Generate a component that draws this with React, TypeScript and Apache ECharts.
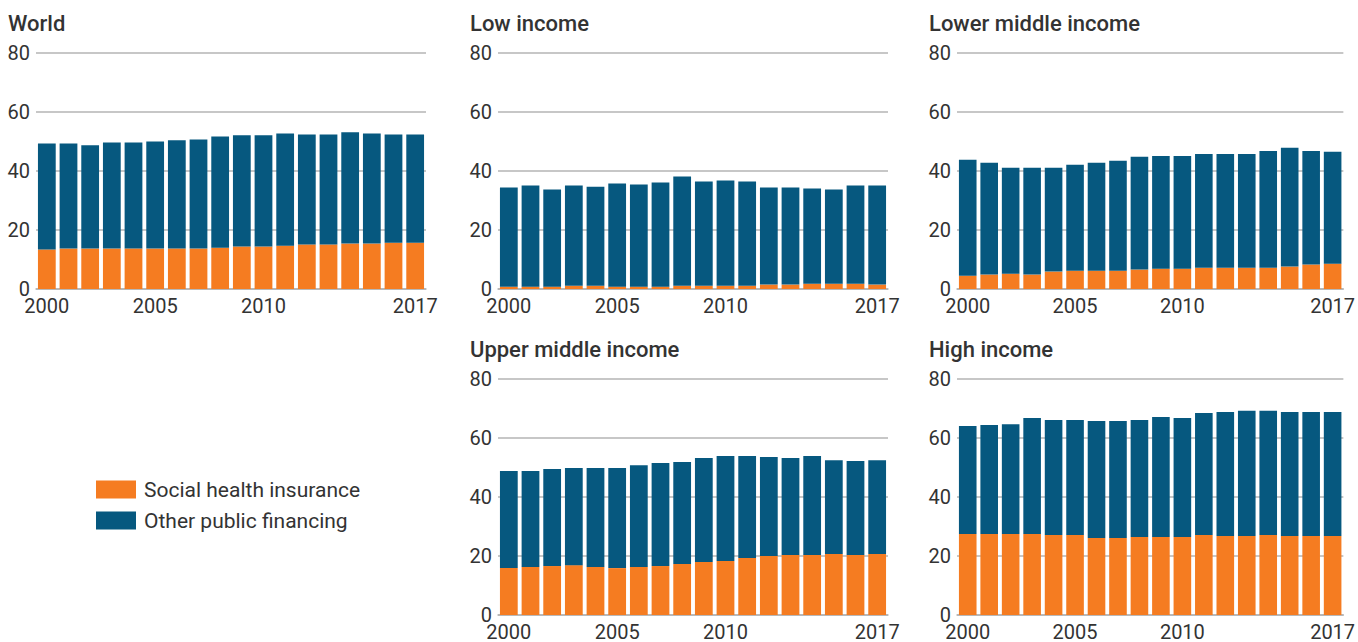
import React, { useEffect, useRef } from "react";
import * as echarts from "echarts";

const years = ["2000","2001","2002","2003","2004","2005","2006","2007","2008","2009","2010","2011","2012","2013","2014","2015","2016","2017"];
const shownYearIdx = [0, 5, 10, 17];
const yTicks = [0, 20, 40, 60, 80];

const panelTitles = ["World", "Low income", "Lower middle income", "Upper middle income", "High income"];
const seriesNames = ["Social health insurance", "Other public financing"];

// Social health insurance (% of public health spending)
const worldSHI = [13.4,13.7,13.7,13.7,13.7,13.7,13.7,13.7,14.0,14.4,14.4,14.7,15.1,15.1,15.4,15.4,15.7,15.7];
const worldTotal = [49.3,49.3,48.7,49.7,49.7,50.0,50.4,50.7,51.7,52.1,52.1,52.7,52.4,52.4,53.1,52.7,52.4,52.4];

const lowSHI = [0.8,0.8,0.8,1.1,1.1,0.8,0.8,0.8,1.1,1.1,1.1,1.1,1.5,1.5,1.8,1.8,1.8,1.5];
const lowTotal = [34.4,35.1,33.7,35.1,34.7,35.8,35.4,36.1,38.1,36.4,36.8,36.4,34.4,34.4,34.1,33.7,35.1,35.1];

const lmSHI = [4.5,4.9,5.2,4.9,5.9,6.2,6.2,6.2,6.6,6.9,6.9,7.2,7.2,7.2,7.2,7.6,8.3,8.6];
const lmTotal = [43.8,42.8,41.1,41.1,41.1,42.1,42.8,43.5,44.8,45.1,45.1,45.8,45.8,45.8,46.8,47.9,46.8,46.5];

const umSHI = [15.9,16.3,16.6,16.9,16.3,15.9,16.3,16.6,17.3,18.0,18.3,19.3,20.0,20.3,20.3,20.7,20.3,20.7];
const umTotal = [48.8,48.8,49.5,49.8,49.8,49.8,50.8,51.5,51.9,53.2,53.9,53.9,53.6,53.2,53.9,52.5,52.2,52.5];

const highSHI = [27.5,27.5,27.5,27.5,27.1,27.1,26.1,26.1,26.4,26.4,26.4,27.1,26.8,26.8,27.1,26.8,26.8,26.8];
const highTotal = [64.1,64.4,64.7,66.8,66.1,66.1,65.8,65.8,66.1,67.1,66.8,68.5,68.8,69.2,69.2,68.8,68.8,68.8];

const shiData = [worldSHI, lowSHI, lmSHI, umSHI, highSHI];
const totalData = [worldTotal, lowTotal, lmTotal, umTotal, highTotal];

const ORANGE = "#F57C21";
const BLUE = "#06587F";
const TEXT = "#333333";
const GRIDLINE = "#b4b4b4";
const FONT = "Roboto";

const panels = [
  { left: 36, top: 53, titleLeft: 8, titleTop: 12 },
  { left: 498, top: 53, titleLeft: 470, titleTop: 12 },
  { left: 957, top: 53, titleLeft: 929, titleTop: 12 },
  { left: 498, top: 379, titleLeft: 470, titleTop: 338 },
  { left: 957, top: 379, titleLeft: 929, titleTop: 338 },
];

export default function App() {
  const ref = useRef<HTMLDivElement>(null);
  useEffect(() => {
    if (!ref.current) return;
    const chart = echarts.init(ref.current, null, { renderer: "svg" });
    const grids = panels.map((p) => ({ left: p.left, top: p.top, width: 390, height: 236 }));
    const xAxes = panels.map((_, i) => ({
      type: "category",
      gridIndex: i,
      data: years,
      axisTick: { show: false },
      axisLine: { show: true, lineStyle: { color: GRIDLINE, width: 1.5 } },
      axisLabel: {
        interval: (idx: number) => shownYearIdx.includes(idx),
        color: TEXT,
        fontFamily: FONT,
        fontSize: 20,
        margin: 7,
      },
    }));
    const yAxes = panels.map((_, i) => ({
      type: "value",
      gridIndex: i,
      min: yTicks[0],
      max: yTicks[yTicks.length - 1],
      interval: 20,
      axisLine: { show: false },
      axisTick: { show: false },
      splitLine: { show: true, lineStyle: { color: GRIDLINE, width: 1.5 } },
      axisLabel: { color: TEXT, fontFamily: FONT, fontSize: 20, margin: 6 },
    }));
    const series: any[] = [];
    panels.forEach((_, i) => {
      series.push({
        name: seriesNames[0],
        type: "bar",
        stack: "s" + i,
        xAxisIndex: i,
        yAxisIndex: i,
        data: shiData[i],
        itemStyle: { color: ORANGE },
        barCategoryGap: "18%",
      });
      series.push({
        name: seriesNames[1],
        type: "bar",
        stack: "s" + i,
        xAxisIndex: i,
        yAxisIndex: i,
        data: totalData[i].map((t, k) => +(t - shiData[i][k]).toFixed(2)),
        itemStyle: { color: BLUE },
        barCategoryGap: "18%",
      });
    });
    chart.setOption({
      animation: false,
      backgroundColor: "#ffffff",
      title: panels.map((p, i) => ({
        text: panelTitles[i],
        left: p.titleLeft,
        top: p.titleTop,
        padding: 0,
        textStyle: { color: TEXT, fontFamily: FONT, fontSize: 22, fontWeight: 500 },
      })),
      legend: {
        orient: "vertical",
        left: 96,
        top: 479,
        itemWidth: 40,
        itemHeight: 18,
        itemGap: 10,
        padding: 0,
        icon: "rect",
        data: seriesNames,
        textStyle: { color: TEXT, fontFamily: FONT, fontSize: 21, padding: [0, 0, 0, 3] },
        selectedMode: false,
      },
      grid: grids,
      xAxis: xAxes,
      yAxis: yAxes,
      series,
    });
    return () => chart.dispose();
  }, []);
  return (
    <div
      ref={ref}
      style={{ position: "absolute", left: 0, top: 0, width: 1358, height: 642 }}
    />
  );
}
